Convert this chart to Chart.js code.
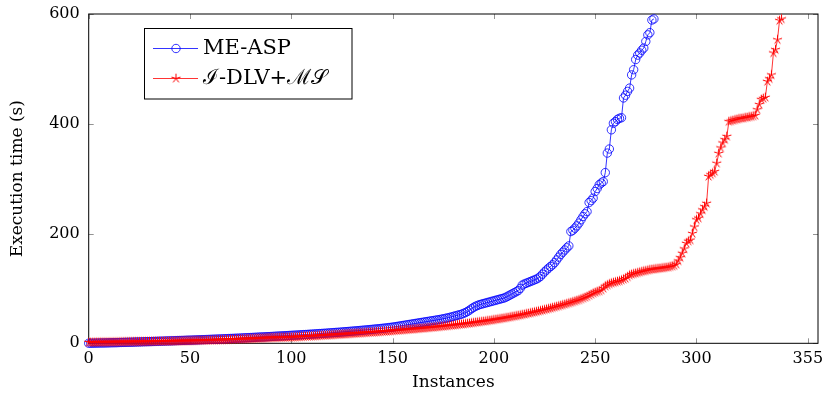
<!DOCTYPE html>
<html>
<head>
<meta charset="utf-8">
<title>Execution time</title>
<script src="https://cdn.jsdelivr.net/npm/chart.js@4.4.0/dist/chart.umd.min.js"></script>
<style>
  html, body { margin: 0; padding: 0; background: #fff; }
  #wrap { width: 824px; height: 395px; }
</style>
</head>
<body>
<div id="wrap"><canvas id="plot" width="824" height="395"></canvas></div>
<script>
// sorted run times per solver (cactus plot), one value per solved instance
var xTicks = [0, 50, 100, 150, 200, 250, 300, 355];
var yTicks = [0, 200, 400, 600];
var seriesNames = ['ME-ASP', 'ℐ-DLV+ℳ𝒮'];

var blueTimes = [
  0.1,0.2,0.2,0.3,0.4,0.5,0.6,0.6,0.7,0.8,
  0.9,1.0,1.1,1.1,1.2,1.4,1.5,1.6,1.7,1.8,
  1.9,2.0,2.1,2.3,2.4,2.5,2.6,2.8,2.9,3.0,
  3.1,3.2,3.4,3.5,3.6,3.8,3.9,4.0,4.2,4.3,
  4.4,4.5,4.7,4.8,5.0,5.1,5.2,5.3,5.5,5.6,
  5.7,5.8,6.0,6.1,6.3,6.4,6.6,6.7,6.9,7.0,
  7.2,7.3,7.5,7.6,7.8,7.9,8.1,8.3,8.4,8.6,
  8.8,8.9,9.1,9.3,9.4,9.6,9.8,10.0,10.2,10.3,
  10.5,10.7,10.9,11.1,11.3,11.5,11.6,11.8,12.0,12.2,
  12.4,12.6,12.8,13.0,13.2,13.4,13.6,13.8,14.0,14.3,
  14.5,14.7,14.9,15.1,15.3,15.6,15.8,16.0,16.2,16.5,
  16.7,16.9,17.2,17.4,17.7,17.9,18.2,18.4,18.7,19.0,
  19.2,19.5,19.8,20.0,20.3,20.6,20.9,21.2,21.5,21.8,
  22.1,22.4,22.7,23.0,23.4,23.7,24.0,24.4,24.7,25.1,
  25.4,25.8,26.2,26.5,26.9,27.3,27.7,28.1,28.6,29.0,
  29.5,30.0,30.6,31.2,31.8,32.4,33.0,33.6,34.2,34.8,
  35.4,36.0,36.6,37.2,37.8,38.4,39.0,39.6,40.2,40.8,
  41.4,42.0,42.6,43.2,43.9,44.6,45.4,46.2,47.0,48.0,
  49.0,50.0,51.0,52.0,53.0,54.5,56.0,58.0,60.5,63.0,
  65.5,67.5,69.0,70.5,71.5,72.5,73.5,74.5,75.5,76.5,
  77.5,78.5,79.5,80.5,81.5,82.5,84.0,86.0,88.0,90.0,
  92.0,94.0,96.0,100.0,106.0,108.0,109.5,111.0,112.5,114.0,
  115.5,117.0,119.0,122.0,126.0,130.0,133.5,137.0,140.0,143.0,
  147,152,157,162,166,170,174,177.5,203.6,206,
  209.8,214,219,225,231,236,240,256.5,260,264.5,
  276.5,282,288.8,292,294.8,311,346.6,354,389,401,
  404,408,410,411,447,452,459,465,489,498.5,
  517,525,529,534,538,550,562,566,589,591
];

var redTimes = [
  1.5,1.5,1.6,1.6,1.7,1.7,1.8,1.8,1.9,1.9,
  2.0,2.0,2.1,2.1,2.2,2.2,2.3,2.3,2.4,2.4,
  2.5,2.5,2.6,2.6,2.7,2.7,2.8,2.8,2.9,2.9,
  3.0,3.0,3.1,3.1,3.2,3.3,3.3,3.4,3.5,3.5,
  3.6,3.7,3.7,3.8,3.9,4.0,4.0,4.1,4.2,4.3,
  4.4,4.5,4.6,4.7,4.8,4.9,5.0,5.1,5.2,5.3,
  5.4,5.5,5.6,5.8,5.9,6.0,6.1,6.3,6.4,6.5,
  6.7,6.8,7.0,7.1,7.3,7.4,7.6,7.7,7.9,8.0,
  8.2,8.4,8.5,8.7,8.9,9.0,9.2,9.4,9.6,9.8,
  10.0,10.1,10.2,10.3,10.4,10.5,10.6,10.7,10.8,10.9,
  11.0,11.2,11.4,11.6,11.8,12.0,12.2,12.4,12.6,12.8,
  13.0,13.2,13.4,13.6,13.8,14.0,14.3,14.5,14.7,14.9,
  15.1,15.4,15.6,15.8,16.0,16.3,16.5,16.7,17.0,17.2,
  17.5,17.7,18.0,18.2,18.5,18.7,19.0,19.2,19.5,19.7,
  20.0,20.2,20.5,20.7,21.0,21.3,21.5,21.8,22.1,22.4,
  22.7,23.0,23.3,23.6,23.9,24.2,24.5,24.8,25.1,25.4,
  25.7,26.0,26.3,26.6,27.0,27.3,27.6,28.0,28.3,28.7,
  29.0,29.4,29.7,30.1,30.5,30.9,31.3,31.7,32.1,32.5,
  32.9,33.3,33.7,34.2,34.6,35.0,35.5,35.9,36.4,36.9,
  37.4,37.9,38.4,38.9,39.4,39.9,40.4,41.0,41.5,42.1,
  42.7,43.3,43.9,44.5,45.1,45.7,46.4,47.0,47.7,48.4,
  49.1,49.8,50.5,51.2,52.0,52.7,53.5,54.3,55.1,55.9,
  56.7,57.5,58.4,59.3,60.2,61.1,62.0,62.9,63.8,64.8,
  65.8,66.8,67.8,68.8,69.8,70.9,72.0,73.1,74.2,75.4,
  76.6,77.8,79.0,80.5,82.0,83.5,85.0,87.0,89.0,91.0,
  92.5,94.0,95.0,97.0,100.0,104.0,106.0,108.0,109.5,110.5,
  111.5,112.5,113.5,115.0,116.5,118.0,121.0,124.0,125.5,126.5,
  127.5,128.5,129.5,130.5,131.5,132.0,133.0,134.0,134.5,135.0,
  135.5,136.0,136.5,137.0,137.5,138.0,138.5,139.5,140.5,141.5,
  144,150,156,164,172,182,186,188,200,212,
  225,228,236,243,249,255,304,307,310,313,
  328,346,356,365,371,377,404,405,406,407,
  408,409,409.5,410,411,411.5,412.5,413,414,415,
  425.6,435,444,446,448,477,482,489,529,535,
  553,588,591
];

var serif = '"DejaVu Serif", serif';

// 5 ray star mark like pgfplots "star"
var starMark = document.createElement('canvas');
starMark.width = 13;
starMark.height = 13;
(function() {
  var c = starMark.getContext('2d');
  c.strokeStyle = '#ff0000';
  c.lineWidth = 1;
  c.beginPath();
  for (var k = 0; k < 5; k++) {
    var ang = -Math.PI / 2 + k * 2 * Math.PI / 5;
    c.moveTo(6.5, 6.5);
    c.lineTo(6.5 + 4.8 * Math.cos(ang), 6.5 + 4.8 * Math.sin(ang));
  }
  c.stroke();
})();

var frame = {
  id: 'frame',
  beforeDatasetsDraw: function(chart) {
    var ctx = chart.ctx, a = chart.chartArea;
    var xs = chart.scales.x, ys = chart.scales.y;
    ctx.save();
    ctx.strokeStyle = '#777';
    ctx.lineWidth = 0.8;
    ctx.beginPath();
    xTicks.forEach(function(v) {
      var px = Math.round(xs.getPixelForValue(v)) + 0.5;
      ctx.moveTo(px, a.bottom); ctx.lineTo(px, a.bottom - 5);
      ctx.moveTo(px, a.top); ctx.lineTo(px, a.top + 5);
    });
    yTicks.forEach(function(v) {
      var py = Math.round(ys.getPixelForValue(v)) + 0.5;
      ctx.moveTo(a.left, py); ctx.lineTo(a.left + 5, py);
      ctx.moveTo(a.right, py); ctx.lineTo(a.right - 5, py);
    });
    ctx.stroke();
    ctx.strokeStyle = '#000';
    ctx.lineWidth = 1;
    ctx.strokeRect(a.left, a.top, a.right - a.left, a.bottom - a.top);
    ctx.restore();
  },
  afterDraw: function(chart) {
    var ctx = chart.ctx;
    ctx.save();
    ctx.fillStyle = '#fff';
    ctx.fillRect(144.5, 28.5, 207.5, 70.5);
    ctx.strokeStyle = '#000';
    ctx.lineWidth = 1;
    ctx.strokeRect(144.5, 28.5, 207.5, 70.5);

    // row 1
    ctx.strokeStyle = '#0000ff';
    ctx.lineWidth = 0.8;
    ctx.beginPath();
    ctx.moveTo(153, 48.5); ctx.lineTo(198, 48.5);
    ctx.stroke();
    ctx.beginPath();
    ctx.arc(176, 48.5, 4.2, 0, Math.PI * 2);
    ctx.stroke();
    // row 2
    ctx.strokeStyle = '#ff0000';
    ctx.beginPath();
    ctx.moveTo(153, 78.5); ctx.lineTo(198, 78.5);
    ctx.stroke();
    ctx.drawImage(starMark, 176 - 6.5, 78.5 - 6.5);

    ctx.fillStyle = '#000';
    ctx.font = '21px ' + serif;
    ctx.textBaseline = 'middle';
    ctx.fillText(seriesNames[0], 203, 49);
    ctx.fillText(seriesNames[1], 203, 79);
    ctx.restore();
  }
};

function pts(arr) {
  return arr.map(function(v, i) { return { x: i, y: v }; });
}

new Chart(document.getElementById('plot'), {
  type: 'line',
  data: {
    datasets: [
      {
        label: seriesNames[0],
        data: pts(blueTimes),
        borderColor: '#0000ff',
        borderWidth: 0.8,
        pointStyle: 'circle',
        pointRadius: 4.2,
        pointBorderWidth: 0.8,
        pointBorderColor: '#0000ff',
        pointBackgroundColor: 'rgba(0,0,0,0)',
        tension: 0,
        clip: false,
        order: 1
      },
      {
        label: seriesNames[1],
        data: pts(redTimes),
        borderColor: '#ff0000',
        borderWidth: 0.8,
        pointStyle: starMark,
        pointRadius: 5,
        tension: 0,
        clip: false,
        order: 0
      }
    ]
  },
  options: {
    responsive: false,
    animation: false,
    devicePixelRatio: 1,
    layout: { padding: { left: 0, right: 6, top: 14, bottom: 0 } },
    plugins: { legend: { display: false }, tooltip: { enabled: false } },
    scales: {
      x: {
        type: 'linear', min: 0, max: 360,
        grid: { display: false, drawTicks: false },
        border: { display: false },
        afterBuildTicks: function(s) { s.ticks = xTicks.map(function(v) { return { value: v }; }); },
        afterFit: function(s) { s.height = 51.7; s.paddingLeft = 0; s.paddingRight = 0; },
        ticks: { font: { family: serif, size: 16 }, color: '#000', padding: 6, maxRotation: 0, autoSkip: false },
        title: { display: true, text: 'Instances', font: { family: serif, size: 17 }, color: '#000', padding: { top: 0, bottom: 2 } }
      },
      y: {
        min: 0, max: 600,
        grid: { display: false, drawTicks: false },
        border: { display: false },
        afterBuildTicks: function(s) { s.ticks = yTicks.map(function(v) { return { value: v }; }); },
        afterFit: function(s) { s.width = 88.7; s.paddingTop = 0; s.paddingBottom = 0; },
        ticks: { font: { family: serif, size: 16 }, color: '#000', padding: 9 },
        title: { display: true, text: 'Execution time (s)', font: { family: serif, size: 17 }, color: '#000', padding: { top: 7, bottom: 0 } }
      }
    }
  },
  plugins: [frame]
});
</script>
</body>
</html>
